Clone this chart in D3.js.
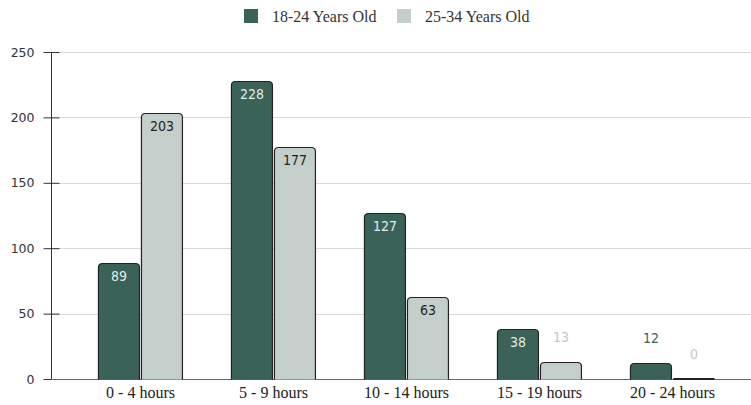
<!DOCTYPE html>
<html>
<head>
<meta charset="utf-8">
<script src="https://cdn.jsdelivr.net/npm/d3@7"></script>
<style>
  html, body { margin: 0; padding: 0; background: #fff; }
  svg { display: block; }
</style>
</head>
<body>
<svg id="chart" width="751" height="405"></svg>
<script>
// Weekly hours by age group
const categories = ["0 - 4 hours", "5 - 9 hours", "10 - 14 hours", "15 - 19 hours", "20 - 24 hours"];
const seriesNames = ["18-24 Years Old", "25-34 Years Old"];
const values1824 = [89, 228, 127, 38, 12];
const values2534 = [203, 177, 63, 13, 0];
const yTicks = [0, 50, 100, 150, 200, 250];

const colors = ["#3b6259", "#c4cecb"];
const insideText = ["#e4ebe8", "#222222"];
const outsideText = ["#3b6259", "#bfc9c6"];

const svg = d3.select("#chart");
const W = 751, H = 405;
const axisX = 51, y0 = 379, yTop = 52;

const y = d3.scaleLinear().domain([0, 250]).range([y0, yTop]);
const x = d3.scaleBand().domain(categories).range([74, 739]).paddingInner(0.36).paddingOuter(0.18);
const xs = d3.scaleBand().domain(seriesNames).range([0, x.bandwidth()]).paddingInner(0.012);

// gridlines
svg.append("g").selectAll("line").data(yTicks).join("line")
  .attr("x1", axisX).attr("x2", W)
  .attr("y1", d => Math.round(y(d)) + 0.5).attr("y2", d => Math.round(y(d)) + 0.5)
  .attr("stroke", "#d9d9d9").attr("stroke-width", 1);

// y axis
const yAxis = d3.axisLeft(y).tickValues(yTicks).tickSize(8).tickPadding(9);
const gy = svg.append("g").attr("transform", `translate(${axisX + 0.5},0)`).call(yAxis);
gy.select(".domain").attr("stroke", "#333").attr("d", `M0,${yTop}V${y0}`);
gy.selectAll(".tick line").attr("x2", 8).attr("x1", -8).attr("stroke", "#333");
gy.selectAll(".tick text")
  .attr("font-family", "'DejaVu Sans', sans-serif").attr("font-size", 12.5)
  .attr("fill", "#333").attr("x", -17);

// x baseline
svg.append("line").attr("x1", axisX).attr("x2", W)
  .attr("y1", y0 + 0.5).attr("y2", y0 + 0.5).attr("stroke", "#666").attr("stroke-width", 1);

// bars with rounded top corners
function barPath(x0, w, top, bottom, r) {
  const h = bottom - top;
  const rr = Math.min(r, h, w / 2);
  if (h <= 0) return `M${x0},${bottom - 0.5}H${x0 + w}`;
  return `M${x0},${bottom}V${top + rr}Q${x0},${top} ${x0 + rr},${top}H${x0 + w - rr}Q${x0 + w},${top} ${x0 + w},${top + rr}V${bottom}`;
}

const rows = categories.map((c, i) => ({ c, vals: [values1824[i], values2534[i]] }));

const groups = svg.append("g").selectAll("g").data(rows).join("g")
  .attr("transform", d => `translate(${x(d.c)},0)`);

groups.each(function (d) {
  const g = d3.select(this);
  d.vals.forEach((v, si) => {
    const bx = Math.round(xs(seriesNames[si])) + 0.5;
    const bw = Math.round(xs.bandwidth()) - 1;
    const top = Math.round(y(v)) + 0.5;
    g.append("path")
      .attr("d", barPath(bx, bw, top, y0 + 0.5, 4))
      .attr("fill", colors[si])
      .attr("stroke", "#222").attr("stroke-width", v === 0 ? 2 : 1.2);
    const inside = (y0 - y(v)) > 30;
    g.append("text")
      .attr("x", bx + bw / 2)
      .attr("y", inside ? y(v) + 18 : y(v) - 20)
      .attr("text-anchor", "middle")
      .attr("font-family", "'DejaVu Sans Condensed', 'DejaVu Sans', sans-serif")
      .attr("font-stretch", "condensed")
      .attr("font-size", 14)
      .attr("fill", inside ? insideText[si] : outsideText[si])
      .text(v);
  });
});

// category labels
svg.append("g").selectAll("text").data(categories).join("text")
  .attr("x", d => x(d) + x.bandwidth() / 2)
  .attr("y", 398)
  .attr("text-anchor", "middle")
  .attr("font-family", "'Liberation Serif', serif").attr("font-size", 16)
  .attr("fill", "#222")
  .text(d => d);

// legend
const legendX = [244, 397];
const legend = svg.append("g").selectAll("g").data(seriesNames).join("g")
  .attr("transform", (d, i) => `translate(${legendX[i]},9)`);
legend.append("rect").attr("width", 14).attr("height", 14).attr("fill", (d, i) => colors[i]);
legend.append("text").attr("x", 28).attr("y", 12.5)
  .attr("font-family", "'Liberation Serif', serif").attr("font-size", 16)
  .attr("fill", "#333").text(d => d);
</script>
</body>
</html>
